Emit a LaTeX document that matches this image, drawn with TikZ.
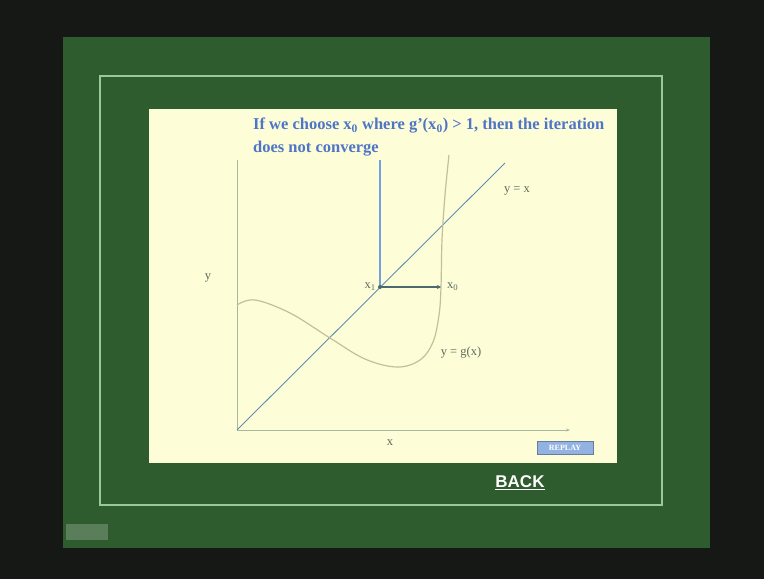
\documentclass[tikz,border=0pt]{standalone}
\usepackage{fontspec}
\setmainfont{Liberation Serif}
\setsansfont{Liberation Sans}
\usepackage{xcolor}
\usetikzlibrary{arrows.meta, positioning}

\definecolor{bgdark}{HTML}{161816}
\definecolor{boardgreen}{HTML}{2E5C2E}
\definecolor{framegreen}{HTML}{9CC79C}
\definecolor{panelyellow}{HTML}{FDFDD8}
\definecolor{titleblue}{HTML}{4F76C6}
\definecolor{axisgrey}{HTML}{A9B7A2}
\definecolor{diagblue}{HTML}{5F8FB4}
\definecolor{curveolive}{HTML}{C2C096}
\definecolor{stepblue}{HTML}{74A0E0}
\definecolor{stepslate}{HTML}{4E6870}
\definecolor{labelgrey}{HTML}{5E6B5C}
\definecolor{replayblue}{HTML}{92B2E2}
\definecolor{iconbox}{HTML}{5A7E5A}

\tikzset{
  axisline/.style={draw=axisgrey, line width=0.9},
  plotlabel/.style={text=labelgrey, font=\fontsize{12.5}{14}\selectfont, inner sep=1pt},
  titletext/.style={text=titleblue, font=\fontsize{16.5}{18}\selectfont\bfseries, anchor=west, inner sep=0pt}
}

\begin{document}
\begin{tikzpicture}[x=1pt, y=-1pt]
\useasboundingbox (0,0) rectangle (764,579);
\fill[bgdark] (0,0) rectangle (764,579);

% Board and frame
\fill[boardgreen] (63,37) rectangle (710,548);
\draw[framegreen, line width=1.6] (100,76) rectangle (662,505);
\fill[panelyellow] (149,109) rectangle (617,463);

% Title
\node[titletext] (title1) at (253,126) {If we choose x\textsubscript{0} where g'(x\textsubscript{0}) > 1, then the iteration};
\node[titletext] (title2) at (253,149) {does not converge};

% Axes
\coordinate (O) at (237,430);
\coordinate (ytop) at (237,160);
\coordinate (xend) at (570,430);
\draw[axisline] (ytop) -- (O);
\draw[axisline, -{Stealth[length=4, width=3]}] (O) -- (xend);
\node[plotlabel] (ylab) at (208,278) {y};
\node[plotlabel] (xlab) at (390,443) {x};

% y = x
\coordinate (dtop) at (505,163);
\draw[diagblue, line width=0.9] (O) -- (dtop);
\node[plotlabel] (diaglab) at (517,191) {y = x};

% y = g(x)
\draw[curveolive, line width=1.2] plot[smooth, tension=0.6] coordinates {
  (237,305) (255,300) (290,313) (330,338) (365,359) (397,367)
  (420,360) (433,342) (439,315) (441,287) (442,240) (445,195) (449,155)};
\node[plotlabel] (glab) at (461,353) {y = g(x)};

% Iteration step
\coordinate (x1) at (380,287);
\coordinate (x0) at (441,287);
\coordinate (x1top) at (380,160);
\draw[stepblue, line width=1.2] (x1) -- (x1top);
\draw[stepslate, line width=1.4, -{Stealth[length=4, width=4]}] (x1) -- (x0);
\fill[stepslate] (x1) circle (2);
\node[plotlabel, left=3pt of x1] (x1lab) {x\textsubscript{1}};
\node[plotlabel, right=5pt of x0] (x0lab) {x\textsubscript{0}};

% Buttons
\node[fill=replayblue, draw=replayblue!70!black, line width=0.5, minimum width=56, minimum height=13,
  inner sep=0pt, text=white, font=\fontsize{8}{9}\selectfont\bfseries] (replay) at (565,448) {REPLAY};
\node[text=white, font=\sffamily\bfseries\fontsize{17}{19}\selectfont, inner sep=0pt] (back) at (520,483) {\underline{BACK}};
\fill[iconbox] (66,524) rectangle (108,540);
\end{tikzpicture}
\end{document}
